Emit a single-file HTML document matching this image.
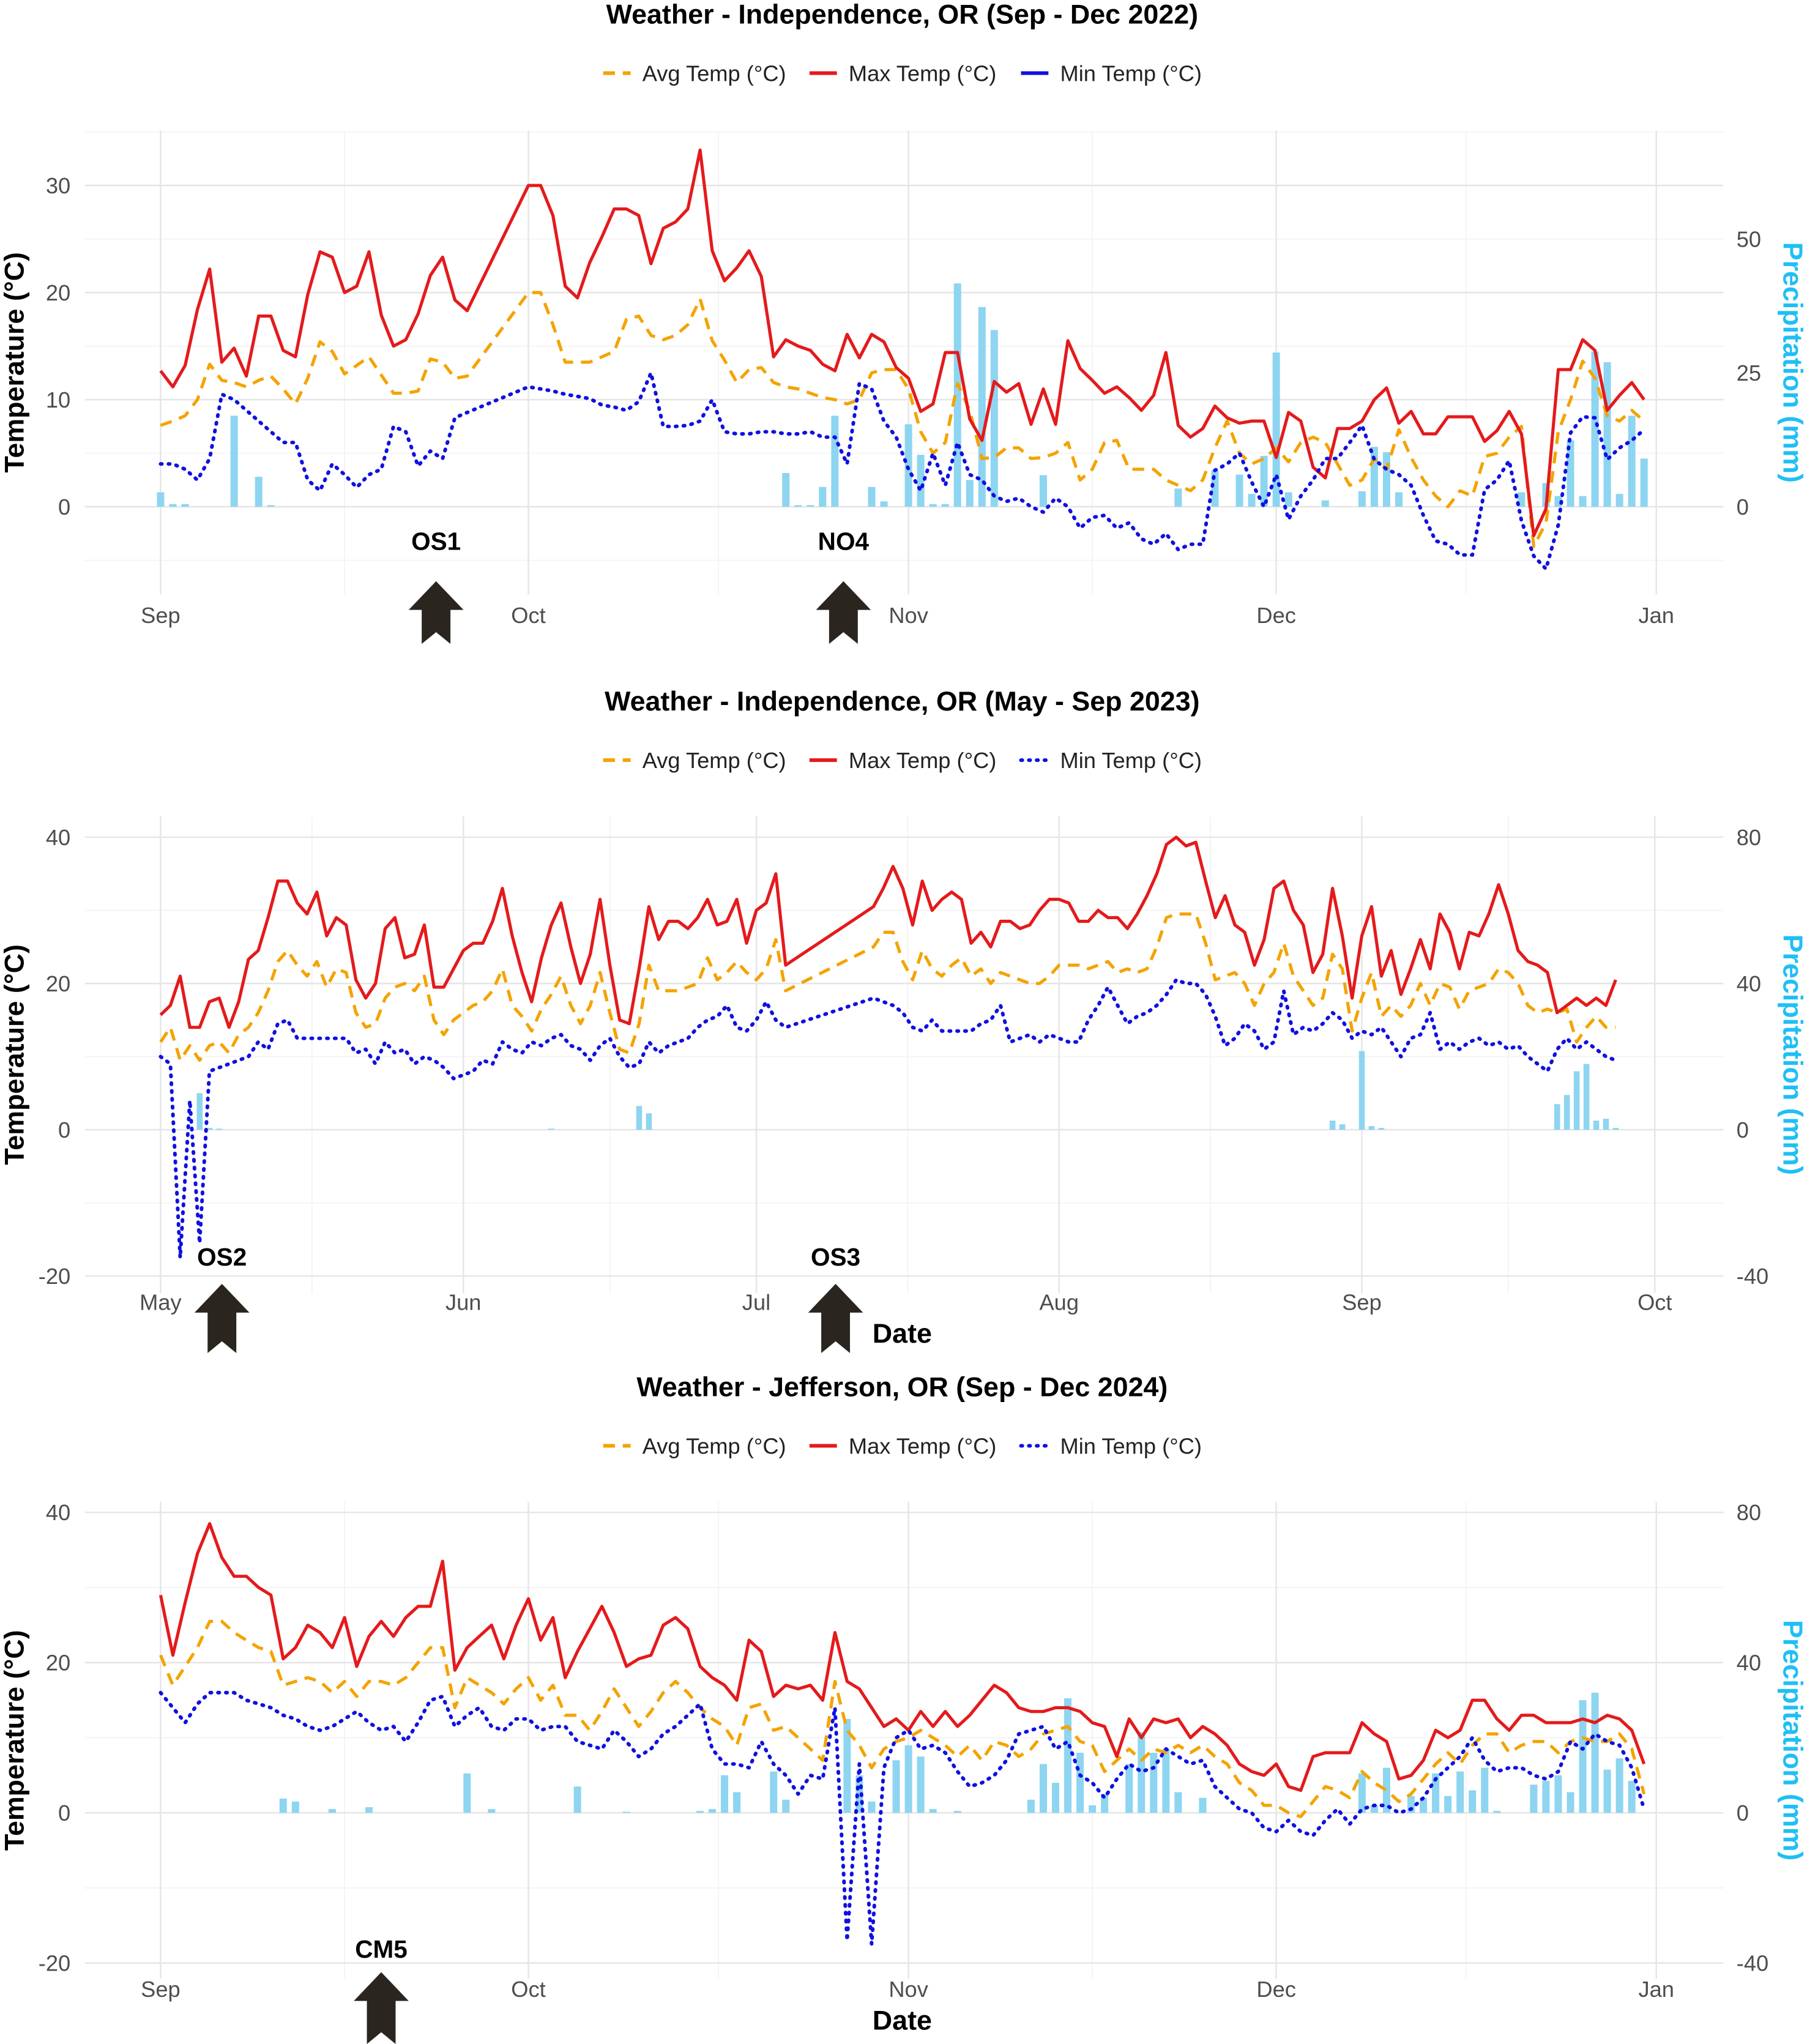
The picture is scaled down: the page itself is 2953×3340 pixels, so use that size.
<!DOCTYPE html>
<html>
<head>
<meta charset="utf-8">
<style>
html,body{margin:0;padding:0;background:#fff;}
svg{display:block;font-family:"Liberation Sans",Arial,sans-serif;}
</style>
</head>
<body>
<svg id="chart" xmlns="http://www.w3.org/2000/svg" width="2953" height="3340" viewBox="0 0 1384 1565" preserveAspectRatio="none"></svg>
<script>
// ===== Panel 1 data (Sep - Dec 2022), index = day since Sep 1 =====
const p1Max = [12.7,11.2,13.2,18.4,22.2,13.5,14.8,12.2,17.8,17.8,14.6,14,19.8,23.8,23.3,20,20.6,23.8,17.9,15,15.6,18,21.6,23.3,19.3,18.3,null,null,null,null,
30,30,27.2,20.6,19.5,22.8,25.2,27.8,27.8,27.2,22.7,26,26.6,27.8,33.3,23.9,21.1,22.3,23.9,21.5,14,15.6,15,14.6,13.3,12.7,16.1,13.9,16.1,15.4,13,12,8.9,9.6,14.4,14.4,8.2,6.2,11.7,10.7,11.5,7.7,11,7.7,15.5,12.9,11.8,10.6,11.2,10.2,9,10.4,14.4,7.6,6.5,7.3,9.4,8.3,7.8,8,8,4.6,8.8,8,3.7,2.7,7.3,7.3,8,10,11.1,7.8,8.9,6.8,6.8,8.4,8.4,8.4,6.1,7.1,8.9,6.8,-2.7,-0.2,12.8,12.8,15.6,14.6,9,10.4,11.6,10];
const p1Avg = [7.6,8,8.5,10,13.3,11.8,11.6,11.2,11.8,12.2,11,9.6,12,15.4,14.5,12.4,13.2,14,12.3,10.6,10.6,10.8,13.8,13.5,12,12.2,null,null,null,null,
20,20,17,13.5,13.5,13.5,14,14.5,17.5,17.8,16,15.6,16,17,19.4,15.5,13.7,11.6,12.8,13,11.6,11.2,11,10.6,10.2,10,9.6,10,12.5,12.8,12.8,11,7,5,6,11.5,9,4.5,4.6,5.5,5.5,4.5,4.6,5,6,2.5,3.5,6,6.2,3.5,3.5,3.5,2.5,2,1.5,2.5,5.5,8,5,4,4.5,5.5,4.2,6,6.5,6,4,2,2.5,4.5,3.5,7.2,4.6,2.5,1,0,1.5,1,4.7,5,6.5,7.5,-3.7,-1.5,7,10,13.6,12,8.5,8,9,8];
const p1Min = [4,4,3.5,2.5,4.5,10.5,10,9,8,7,6,6,2.5,1.5,4,3,1.8,3,3.5,7.5,7,3.8,5.2,4.5,8.3,8.8,null,null,null,null,
11.2,11,10.8,10.5,10.3,10.1,9.5,9.3,9,9.8,12.5,7.5,7.5,7.6,8,10,7,6.8,6.8,7,7,6.8,6.8,7,6.5,6.5,4,11.5,11,8,6.5,3.5,1.5,5,2,6,3,2.5,1,0.5,0.8,0,-0.5,0.8,0,-2,-1,-0.8,-2,-1.5,-3,-3.5,-2.5,-4,-3.5,-3.5,3.4,4,5,2.3,0,3,-1.2,1,2.5,4.5,4.5,6,7.6,4.4,3.5,3,2,-0.8,-3.2,-3.5,-4.5,-4.5,1.6,2.5,4.3,-1.3,-4.6,-5.8,-1.7,6.9,8.4,8.3,4.4,5.5,6.2,7.2];
const p1RainDays = [0,1,2,6,8,9,51,52,53,54,55,58,59,61,62,63,64,65,66,67,68,72,83,86,88,89,90,91,92,95,98,99,100,101,111,113,114,115,116,117,118,119,120,121];
const p1RainMm = [2.7,0.5,0.5,17,5.6,0.3,6.3,0.3,0.3,3.7,17,3.7,1,15.4,9.7,0.5,0.5,41.7,5,37.3,33,5.9,3.4,6.8,6,2.4,9.5,28.8,2.7,1.2,2.9,11.2,10.2,2.7,2.7,4.4,2,12.4,2,29,27,2.4,17,9];

// ===== Panel 2 data (May - Sep 2023), index = day since May 1 =====
const gap8 = [null,null,null,null,null,null,null,null];
const p2Max = [15.7,17,21,14,14,17.5,18,14,17.5,23.3,24.5,29,34,34,31,29.5,32.5,26.5,29,28,20.5,18,20,27.5,29,23.5,24,28,19.5,19.5,22,24.5,25.5,25.5,28.5,33,26.5,21.5,17.5,23.5,28,31,25,20,24,31.5,22.5,15,14.5,22,30.5,26,28.5,28.5,27.5,29,31.5,28,28.5,31.5,25.5,30,31,35,22.5]
 .concat(gap8).concat([30.5,33,36,33,28,34,30,31.5,32.5,31.5,25.5,27,25,28.5,28.5,27.5,28,30,31.5,31.5,31,28.5,28.5,30,29,29,27.5,29.5,32,35,39,40,38.8,39.3,34,29,32,28,27,22.5,26,33,34,30,28,21.5,24,33,26.5,18,26.5,30.5,21,24.5,18.5,22,26,22,29.5,27,22,27,26.5,29.5,33.5,29.5,24.5,23,22.5,21.5,16,17,18,17,18,17,20.5]);
const p2Avg = [12,14,9.5,11.5,9.5,11.5,12,10.5,13,14,16,19,23,24.5,22.5,21,23,19.5,22,21.5,16,14,14.5,18,19.5,20,19,21,15,13,15,16,17,17.5,19,22,17,15.5,13.5,16.5,18.5,21,17,14.5,17,21.5,16,11,10.5,14.5,22.5,19,19,19,19.5,20,23.5,20.5,21.5,23,21.5,20.5,22,26,19]
 .concat(gap8).concat([25,27,27,23,20.5,24.5,22,21,22.5,23.5,21,22,20,21.5,21,20.5,20,20,21,22.5,22.5,22.5,22,22.5,23,21.5,22,21.5,22,25,29,29.5,29.5,29.5,25.5,20.5,21,21.5,20,17,20,21.5,25.5,21,19,17,18,24,22,13.5,18,21.5,15.5,17,15.5,17,20,17,20,19.5,16.5,19,19.5,20,22,21.5,20,17,16,16.5,16,16.5,12,14,15.5,14,14]);
const p2Min = [10,9,-17.5,4,-15.5,8,8.5,9,9.5,10,12,11,14.5,15,12.5,12.5,12.5,12.5,12.5,12.5,10.5,11,9,12,10.5,11,9,10,9.5,8.5,7,7.5,8,9.5,9,12,11,10.5,12,11.5,12.5,13,11.5,11,9.5,11.5,12.5,10,8.5,9,12,10.5,11.5,12,12.5,14,15,15.5,17,14,13.5,15,17.5,15,14]
 .concat(gap8).concat([18,17.5,17,16,14,13.5,15,13.5,13.5,13.5,13.5,14.5,15,17,12,12.5,13,12,13,12.5,12,12,15,17,19.5,17,14.5,15.5,16,17,18.5,20.5,20,20,18.5,15.5,11.5,12.5,14.5,13.5,11,12,19,13,14,13.5,14.5,16,15,12.5,13.5,13,14,12,10,12.5,13,16,11,12,11,12,12.5,11.5,12,11,11.5,10,9,8,11,12.5,11,12,11,10,9.5]);
const p2RainDays = [4,5,6,40,49,50,120,121,123,124,125,143,144,145,146,147,148,149];
const p2RainMm = [10,0.5,0.3,0.3,6.5,4.5,2.5,1.5,21.5,1,0.5,7,9.5,16,18,2.5,3,0.5];

// ===== Panel 3 data (Sep - Dec 2024), index = day since Sep 1 =====
const p3Max = [29,21,28,34.5,38.5,34,31.5,31.5,30,29,20.5,22,25,24,22,26,19.5,23.5,25.5,23.5,26,27.5,27.5,33.5,19,22,23.5,25,20.5,25,28.5,23,26,18,21.5,24.5,27.5,24,19.5,20.5,21,25,26,24.5,19.5,18,17,15,23,21.5,15.5,17,16.5,17,15,24,17.5,16.5,14,11.5,12.5,11,13.5,11.5,13.5,11.5,13,15,17,16,14,13.5,13.5,14,14,13.5,12,11.5,7.5,12.5,10,12.5,12,12.5,10,11.5,10.5,9,6.5,5.5,5,6.5,3.5,3,7.5,8,8,8,12,10.5,9.5,4.5,5,7,11,10,11,15,15,12.5,11,13,13,12,12,12,12.5,12,13,12.5,11,6.5];
const p3Avg = [21,17,19.5,22,25.5,25.5,24,23,22,21.5,17,17.5,18,17.5,16,17.5,15.5,17.5,17.5,17,18,20,22,22,14,18,17,16,14.5,16.5,18,15,17,13,13,11,13.5,16.5,14,11.5,13.5,16,17.5,16,14,12.5,11.5,9,14,14.5,11,11.5,10,8.5,7,17.5,11,9,6,8.5,9.5,10,11,10,9,7.5,9,7,9.5,9,7.5,8.5,10.5,11,11.5,9.5,9,5.5,7,8.5,7,8.5,8,9,8,9,7.5,6.5,4,3,1,1,0,-0.5,1.5,3.5,3,2,5.5,4,3,1.5,2.5,4.5,6.5,8,6.5,9,10.5,10.5,8,9,9.5,9.5,8,9.5,10,9.5,9.5,10.5,8.5,2.5];
const p3Min = [16,14,12,14.5,16,16,16,15,14.5,14,13,12.5,11.5,11,11.5,12.5,13.5,12,11,11.5,9.5,12,15,15.5,11.5,13,14,11.5,11,12.5,12.5,11,11.5,11.5,9.5,9,8.5,11,9.5,7.5,8.5,10.5,11.5,13,14.5,8.5,6.5,6.5,6,9.5,6.5,5,2.5,5,4.5,14,-17,6.5,-17.5,6,10,11,8.5,9,8,5.5,3.5,4,5,7,10.5,11,11.5,8.5,9.5,5,4,2,4.5,6.5,5.5,6,8.5,7.5,6.5,7,3.5,2,0.5,0,-2,-2.5,-1,-2.5,-3,-1,0.5,-1.5,0.5,1,1,0,0.5,2,4.5,6,7.5,10,7,5.5,6,6,5,4.5,5.5,9.5,8.5,10.5,9.5,9,6,0.5];
const p3RainDays = [10,11,14,17,25,27,34,38,44,45,46,47,50,51,56,57,58,60,61,62,63,65,71,72,73,74,75,76,77,79,80,81,82,83,85,98,99,100,102,103,104,105,106,107,108,109,112,113,114,115,116,117,118,119,120];
const p3RainMm = [3.8,3,1,1.5,10.5,1,7,0.3,0.5,1,10,5.5,11,3.5,25,10,3,14,18,15,1,0.5,3.5,13,8,30.5,16,2,5,13,21.5,16,17,5.5,4,10.5,2,12,4.5,4,10.5,4.5,11,6,12,0.5,7.5,8.5,10,5.5,30,32,11.5,14.5,8.5];

// ===== axis/tick labels =====
const monthsA = ["Sep","Oct","Nov","Dec","Jan"];
const monthsADays = [0,30,61,91,122];
const monthsB = ["May","Jun","Jul","Aug","Sep","Oct"];
const monthsBDays = [0,31,61,92,123,153];
const p1TempTicks = [0,10,20,30];
const p1RainTicks = [0,25,50];
const p23TempTicks = [-20,0,20,40];
const p23RainTicks = [-40,0,40,80];

const NS = "http://www.w3.org/2000/svg";
const svg = document.getElementById("chart");
function mk(tag, attrs, parent, text){
  const e = document.createElementNS(NS, tag);
  for (const k in attrs) e.setAttribute(k, attrs[k]);
  if (text !== undefined) e.textContent = text;
  (parent || svg).appendChild(e);
  return e;
}
const COL_AVG = "#F4A300", COL_MAX = "#E41A1C", COL_MIN = "#1010E0", COL_RAIN = "#87D3F0", COL_PRE = "#1FBFF5";

function panel(cfg){
  const g = mk("g", {});
  
  
  const xs = d => cfg.x0 + d * cfg.ppd;
  const ys = t => cfg.y0 - t * cfg.ppdeg;
  const L = 65, R = 1320;
  const gg = mk("g", {}, g);
  
  
  cfg.minorT.forEach(t => mk("line",{x1:L,x2:R,y1:ys(t),y2:ys(t),stroke:"#f3f3f3","stroke-width":0.8},gg));
  for (let i=0;i<cfg.mDays.length-1;i++){
    const xm = xs((cfg.mDays[i]+cfg.mDays[i+1])/2);
    mk("line",{x1:xm,x2:xm,y1:cfg.top,y2:cfg.bottom,stroke:"#f3f3f3","stroke-width":0.8},gg);
  }
  cfg.tTicks.forEach(t => mk("line",{x1:L,x2:R,y1:ys(t),y2:ys(t),stroke:"#e6e6e6","stroke-width":1.2},gg));
  cfg.mDays.forEach(d => mk("line",{x1:xs(d),x2:xs(d),y1:cfg.top,y2:cfg.bottom,stroke:"#e6e6e6","stroke-width":1.2},gg));
  cfg.rainDays.forEach((d,i) => {
    const h = cfg.rainMm[i] * cfg.ppdeg / 2;
    const b = mk("rect",{x:xs(d)-cfg.ppd*0.3,y:cfg.y0-h,width:cfg.ppd*0.6,height:h,fill:COL_RAIN,opacity:0.95},g);
    
    
  });
  function line(arr, color, dash, w, nm){
    let d = "";
    arr.forEach((v,i) => { if (v === null || v === undefined) return; d += (d ? "L" : "M") + xs(i).toFixed(1) + "," + ys(v).toFixed(1); });
    const p = mk("path",{d:d,fill:"none",stroke:color,"stroke-width":w,"stroke-dasharray":dash,"stroke-linejoin":"round","stroke-linecap":dash==="1 5"?"round":"butt"},g);
    
    
  }
  line(cfg.avg, COL_AVG, "9 6", 2.4, "avg-temp-line");
  line(cfg.max, COL_MAX, "none", 2.4, "max-temp-line");
  line(cfg.min, COL_MIN, "1 5", 2.8, "min-temp-line");
  cfg.tTicks.forEach(t => {
    const e = mk("text",{x:54,y:ys(t)+6,"text-anchor":"end","font-size":17,fill:"#4d4d4d"},g,String(t));
    
    
  });
  cfg.rTicks.forEach(r => {
    const e = mk("text",{x:1330,y:ys(r/2)+6,"font-size":17,fill:"#4d4d4d"},g,String(r));
    
    
  });
  cfg.mLabels.forEach((m,i) => {
    const e = mk("text",{x:xs(cfg.mDays[i]),y:cfg.labelY,"text-anchor":"middle","font-size":17,fill:"#4d4d4d"},g,m);
    
    
  });
  const cy = (cfg.top + cfg.bottom)/2;
  const yt = mk("text",{x:0,y:0,transform:`translate(18,${cy}) rotate(-90)`,"text-anchor":"middle","font-size":21,"font-weight":"bold",fill:"#000"},g,"Temperature (°C)");
  
  
  const pt = mk("text",{x:0,y:0,transform:`translate(1366,${cy}) rotate(90)`,"text-anchor":"middle","font-size":21,"font-weight":"bold",fill:COL_PRE},g,"Precipitation (mm)");
  
  
  const ti = mk("text",{x:691,y:cfg.titleY,"text-anchor":"middle","font-size":21,"font-weight":"bold",fill:"#000"},g,cfg.title);
  
  
  const lg = mk("g",{},g);
  
  
  const ly = cfg.titleY + 44;
  const items = [["Avg Temp (°C)",COL_AVG,"9 6",462],["Max Temp (°C)",COL_MAX,"none",620],["Min Temp (°C)",COL_MIN,cfg.legendMinDash,782]];
  items.forEach(it => {
    const le = mk("g",{},lg);
    
    
    mk("line",{x1:it[3],x2:it[3]+21,y1:ly-6,y2:ly-6,stroke:it[1],"stroke-width":2.8,"stroke-dasharray":it[2],"stroke-linecap":it[2]==="1 5"?"round":"butt"},le);
    mk("text",{x:it[3]+30,y:ly,"font-size":17,fill:"#222"},le,it[0]);
  });
}

function arrow(cx, top, bottom, label, labelY, nm){
  const g = mk("g",{});
  
  
  const pts = [[cx,top],[cx+21,top+22],[cx+11,top+22],[cx+11,bottom],[cx,bottom-9],[cx-11,bottom],[cx-11,top+22],[cx-21,top+22]];
  mk("polygon",{points:pts.map(p=>p.join(",")).join(" "),fill:"#2b2520"},g);
  mk("text",{x:cx,y:labelY,"text-anchor":"middle","font-size":19,"font-weight":"bold",fill:"#000"},g,label);
}

panel({name:"panel-2022",title:"Weather - Independence, OR (Sep - Dec 2022)",titleY:18,x0:123,ppd:9.39,y0:388,ppdeg:8.2,top:100,bottom:455,labelY:477,
  tTicks:p1TempTicks,minorT:[-5,5,15,25,35],rTicks:p1RainTicks,mLabels:monthsA,mDays:monthsADays,
  max:p1Max,avg:p1Avg,min:p1Min,rainDays:p1RainDays,rainMm:p1RainMm,legendMinDash:"none"});
panel({name:"panel-2023",title:"Weather - Independence, OR (May - Sep 2023)",titleY:544,x0:123,ppd:7.48,y0:865,ppdeg:5.6,top:625,bottom:990,labelY:1003,
  tTicks:p23TempTicks,minorT:[-10,10,30],rTicks:p23RainTicks,mLabels:monthsB,mDays:monthsBDays,
  max:p2Max,avg:p2Avg,min:p2Min,rainDays:p2RainDays,rainMm:p2RainMm,legendMinDash:"1 5"});
panel({name:"panel-2024",title:"Weather - Jefferson, OR (Sep - Dec 2024)",titleY:1069,x0:123,ppd:9.39,y0:1388,ppdeg:5.75,top:1150,bottom:1515,labelY:1529,
  tTicks:p23TempTicks,minorT:[-10,10,30],rTicks:p23RainTicks,mLabels:monthsA,mDays:monthsADays,
  max:p3Max,avg:p3Avg,min:p3Min,rainDays:p3RainDays,rainMm:p3RainMm,legendMinDash:"1 5"});

arrow(334,445,493,"OS1",421,"arrow-os1");
arrow(646,445,493,"NO4",421,"arrow-no4");
arrow(170,983,1036,"OS2",969,"arrow-os2");
arrow(640,983,1036,"OS3",969,"arrow-os3");
arrow(292,1510,1565,"CM5",1499,"arrow-cm5");

const d1 = mk("text",{x:691,y:1028,"text-anchor":"middle","font-size":21,"font-weight":"bold",fill:"#000"},svg,"Date");


const d2 = mk("text",{x:691,y:1554,"text-anchor":"middle","font-size":21,"font-weight":"bold",fill:"#000"},svg,"Date");


</script>
</body>
</html>
